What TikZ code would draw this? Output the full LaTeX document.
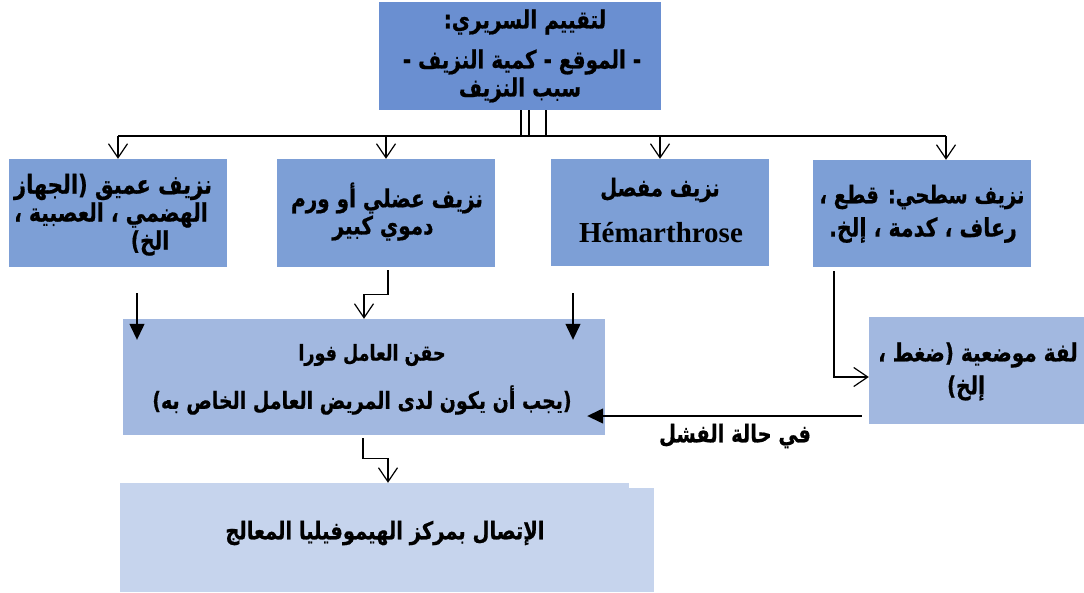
\documentclass[tikz,border=0pt]{standalone}
\usepackage{fontspec}
\usepackage{graphicx}
\usetikzlibrary{arrows.meta,calc}
\TeXXeTstate=1
\newfontfamily\arabicfont[Script=Arabic,FakeBold=0.7]{DejaVu Sans Bold}
\newfontfamily\latinserif{Liberation Serif}
\definecolor{topblue}{RGB}{106,143,209}
\definecolor{midblue}{RGB}{125,159,214}
\definecolor{lightblue}{RGB}{162,184,224}
\definecolor{paleblue}{RGB}{198,212,237}
\newcommand\arsz[1]{\fontsize{#1}{#1}\arabicfont}
\newcommand\tall[1]{\scalebox{1}[1.25]{#1}}
\tikzset{
  box/.style={fill=#1, draw=none, inner sep=0pt},
  txt/.style={inner sep=0pt, anchor=center},
  conn/.style={line width=1.3pt, black},
  varrow/.style={conn, -{Straight Barb[length=14pt,width=19pt,line width=1.2pt]}},
  farrow/.style={conn, -{Triangle[length=16pt,width=15pt]}},
}
\begin{document}
\begin{tikzpicture}[x=1pt,y=-1pt]
\useasboundingbox (0,0) rectangle (1084,592);
% boxes
\node[box=topblue, minimum width=282pt, minimum height=108pt] (top) at (520,56) {};
\node[box=midblue, minimum width=218pt, minimum height=108pt] (b1) at (118,213) {};
\node[box=midblue, minimum width=218pt, minimum height=108pt] (b2) at (386,213) {};
\node[box=midblue, minimum width=218pt, minimum height=107pt] (b3) at (660,212.5) {};
\node[box=midblue, minimum width=218pt, minimum height=107pt] (b4) at (922,213.5) {};
\node[box=lightblue, minimum width=482pt, minimum height=116pt] (main) at (364,377) {};
\node[box=lightblue, minimum width=215pt, minimum height=107pt] (small) at (976.5,370.5) {};
\node[box=paleblue, minimum width=509pt, minimum height=109pt] (bottom) at (374.5,537.5) {};
\fill[paleblue] (bottom.north east) ++(0,5) rectangle (654,592);
% texts
\node[txt] (t1) at (525,22) {\tall{\arsz{20}\beginR لتقييم السريري:\endR}};
\node[txt] (t2) at (522,62) {\tall{\arsz{20}\beginR - الموقع - كمية النزيف -\endR}};
\node[txt] (t3) at (520,90) {\tall{\arsz{20}\beginR سبب النزيف\endR}};
\node[txt] (b1a) at (113,187) {\tall{\arsz{21}\beginR نزيف عميق (الجهاز\endR}};
\node[txt] (b1b) at (111,215) {\tall{\arsz{20.3}\beginR الهضمي ، العصبية ،\endR}};
\node[txt] (b1c) at (150,243) {\tall{\arsz{20.3}\beginR الخ)\endR}};
\node[txt] (b2a) at (387,198) {\tall{\arsz{20}\beginR نزيف عضلي أو ورم\endR}};
\node[txt] (b2b) at (383,228) {\tall{\arsz{20}\beginR دموي كبير\endR}};
\node[txt] (b3a) at (660,190) {\tall{\arsz{19.5}\beginR نزيف مفصل\endR}};
\node[txt] (b3b) at (661,233) {\fontsize{29}{29}\latinserif\bfseries Hémarthrose};
\node[txt] (b4a) at (922,197) {\tall{\arsz{19.5}\beginR نزيف سطحي: قطع ،\endR}};
\node[txt] (b4b) at (923,230) {\tall{\arsz{20.5}\beginR رعاف ، كدمة ، إلخ.\endR}};
\node[txt] (m1) at (372,355) {\tall{\arsz{17.5}\beginR حقن العامل فورا\endR}};
\node[txt] (m2) at (362,400) {\tall{\arsz{19}\beginR (يجب أن يكون لدى المريض العامل الخاص به)\endR}};
\node[txt] (s1) at (978,355) {\tall{\arsz{20}\beginR لفة موضعية (ضغط ،\endR}};
\node[txt] (s2) at (966,388) {\tall{\arsz{20}\beginR إلخ)\endR}};
\node[txt] (bt) at (385,533) {\tall{\arsz{19.5}\beginR الإتصال بمركز الهيموفيليا المعالج\endR}};
\node[txt] (fail) at (735,436) {\tall{\arsz{19.5}\beginR في حالة الفشل\endR}};
% connectors from top
\coordinate (hl) at (118,136);
\coordinate (hr) at (946,136);
\draw[conn] ([xshift=1pt]top.south) -- ([xshift=1pt]top.south |- hl);
\draw[conn] ([xshift=9pt]top.south) -- ([xshift=9pt]top.south |- hl);
\draw[conn] ([xshift=26pt]top.south) -- ([xshift=26pt]top.south |- hl);
\draw[conn] (hl) -- (hr);
\draw[varrow] (hl) -- (b1.north);
\draw[varrow] (b2.north |- hl) -- (b2.north);
\draw[varrow] (b3.north |- hl) -- (b3.north);
\draw[varrow] (hr) -- (hr |- b4.north);
% to main
\draw[varrow] ($(b2.south)+(2,3)$) |- ($(main.north)+(0,-24)$) -- (main.north);
\coordinate (d1) at (137,293);
\coordinate (d3) at (573,293);
\draw[farrow] (d1) -- ($(d1 |- main.north)+(0,21)$);
\draw[farrow] (d3) -- ($(d3 |- main.north)+(0,21)$);
% superficial to small
\draw[varrow] ($(b4.south)+(-88,4)$) |- ($(small.west)+(0,6.5)$);
% small to main
\draw[farrow] ($(small.west)+(-7,45.5)$) -- ($(main.east)+(-18,39)$);
% main to bottom
\draw[varrow] ($(main.south)+(-1,3)$) |- ($(bottom.north)+(13.5,-24)$) -- ($(bottom.north)+(13.5,0)$);
\end{tikzpicture}
\end{document}
